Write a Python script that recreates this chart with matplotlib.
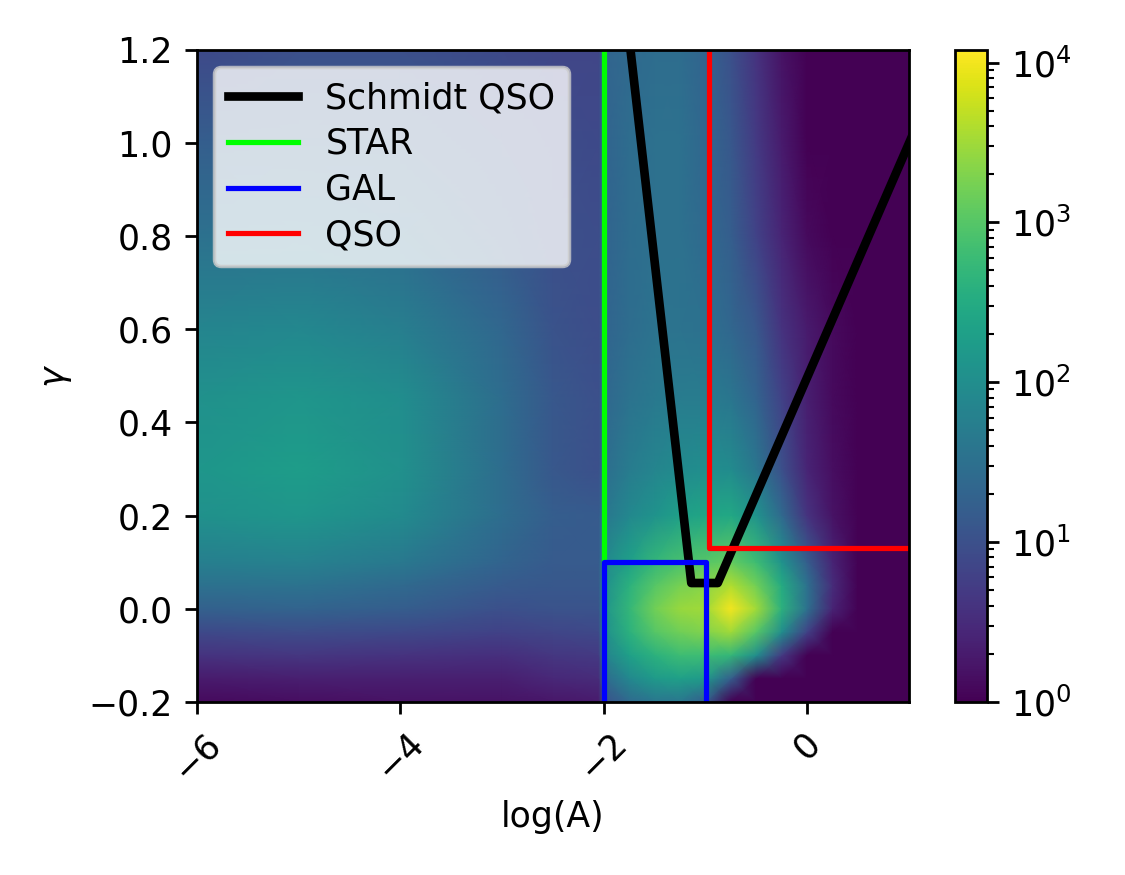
import numpy as np
import matplotlib
matplotlib.use("Agg")
import matplotlib.pyplot as plt
from matplotlib.colors import LogNorm

# grid nodes of the 2D histogram (log(A), gamma)
log_a = [-6, -5, -4, -3, -2.5, -2.05, -2, -1.75, -1.5, -1.25, -1, -0.75, -0.5, -0.25, 0, 0.25, 0.5, 1.0]
gamma = [-0.2, -0.15, -0.1, -0.05, 0.0, 0.05, 0.1, 0.2, 0.3, 0.45, 0.6, 0.8, 1.0, 1.2]

# log10(counts), one row per gamma value
log_counts = [
    [0.1, 0.15, 0.2, 0.2, 0.25, 0.3, 1.0, 1.4, 1.6, 1.6, 1.2, 0, 0, 0, 0, 0, 0, 0],
    [0.3, 0.35, 0.35, 0.35, 0.45, 0.5, 1.4, 1.9, 2.2, 2.3, 2.2, 1.2, 0, 0, 0, 0, 0, 0],
    [0.6, 0.65, 0.6, 0.55, 0.65, 0.7, 1.8, 2.3, 2.6, 2.8, 2.8, 2.7, 2.0, 0.7, 0, 0, 0, 0],
    [0.9, 0.95, 0.9, 0.8, 0.85, 0.9, 2.0, 2.6, 3.0, 3.2, 3.3, 3.5, 3.0, 2.0, 0.8, 0, 0, 0],
    [1.25, 1.3, 1.2, 1.0, 1.05, 1.05, 2.1, 2.7, 3.2, 3.45, 3.5, 4.0, 3.5, 2.6, 1.5, 0.4, 0, 0],
    [1.5, 1.55, 1.4, 1.15, 1.1, 1.1, 2.0, 2.6, 3.0, 3.25, 3.35, 3.6, 3.2, 2.5, 1.5, 0.5, 0, 0],
    [1.75, 1.8, 1.65, 1.3, 1.15, 1.15, 1.9, 2.3, 2.7, 2.9, 3.0, 3.1, 2.8, 2.1, 1.2, 0.4, 0, 0],
    [2.05, 2.15, 1.95, 1.45, 1.2, 1.15, 1.6, 1.9, 2.1, 2.3, 2.4, 2.45, 2.1, 1.4, 0.6, 0.2, 0, 0],
    [2.15, 2.25, 2.05, 1.45, 1.1, 1.0, 1.45, 1.7, 1.85, 1.95, 2.0, 1.95, 1.6, 1.0, 0.4, 0.15, 0, 0],
    [2.05, 2.15, 2.0, 1.45, 1.1, 1.0, 1.35, 1.55, 1.65, 1.7, 1.7, 1.6, 1.3, 0.8, 0.35, 0.1, 0, 0],
    [1.85, 1.9, 1.75, 1.35, 1.05, 0.95, 1.3, 1.45, 1.55, 1.55, 1.5, 1.35, 1.1, 0.6, 0.3, 0.1, 0, 0],
    [1.5, 1.55, 1.45, 1.15, 1.0, 0.95, 1.3, 1.45, 1.5, 1.5, 1.4, 1.2, 0.8, 0.4, 0.1, 0, 0, 0],
    [1.2, 1.25, 1.2, 1.05, 0.95, 0.9, 1.3, 1.45, 1.5, 1.5, 1.35, 1.1, 0.7, 0.3, 0, 0, 0, 0],
    [0.9, 1.0, 1.0, 0.9, 0.85, 0.85, 1.3, 1.4, 1.45, 1.45, 1.3, 1.0, 0.6, 0.2, 0, 0, 0, 0],
]
vmax = 1.2e4

# selection boundaries
schmidt_x = [-1.79, -1.14, -0.88, 1.2]
schmidt_y = [1.3, 0.055, 0.055, 1.1]
star_x = [-2, -2]
star_y = [0.1, 1.2]
gal_x = [-2, -2, -1, -1]
gal_y = [-0.2, 0.1, 0.1, -0.2]
qso_x = [-0.97, -0.97, 1.0]
qso_y = [1.2, 0.13, 0.13]

fig = plt.figure(figsize=(4.5, 3.5), dpi=250)
ax = fig.add_axes([0.175, 0.198, 0.633, 0.745])
cax = fig.add_axes([0.849, 0.198, 0.028, 0.745])

X, Y = np.meshgrid(log_a, gamma)
counts = 10 ** np.array(log_counts)
mesh = ax.pcolormesh(X, Y, counts, shading='gouraud', cmap='viridis',
                     norm=LogNorm(vmin=1, vmax=vmax), rasterized=True)

ax.plot(schmidt_x, schmidt_y, color='black', lw=2.5, label='Schmidt QSO')
ax.plot(star_x, star_y, color='lime', label='STAR')
ax.plot(gal_x, gal_y, color='blue', label='GAL')
ax.plot(qso_x, qso_y, color='red', label='QSO')

ax.set_xlim(-6, 1)
ax.set_ylim(-0.2, 1.2)
ax.set_xlabel('log(A)')
ax.set_ylabel(r'$\gamma$')
ax.tick_params(axis='x', labelrotation=45)
ax.legend(loc='upper left', labelspacing=0.34)

fig.colorbar(mesh, cax=cax)

fig.savefig('out.png', dpi=250)
